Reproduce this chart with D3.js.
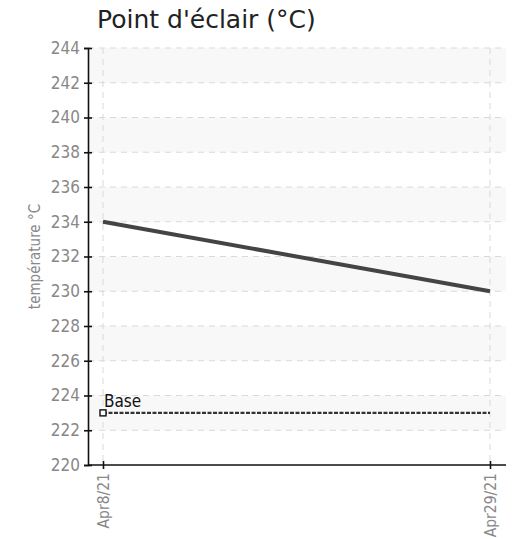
<!DOCTYPE html>
<html>
<head>
<meta charset="utf-8">
<script src="https://cdn.jsdelivr.net/npm/d3@7"></script>
<style>
body { margin: 0; background: #fff; }
</style>
</head>
<body>
<svg width="516" height="539"></svg>
<script>
var svg = d3.select("svg");

var dates = ["Apr8/21", "Apr29/21"];
var values = [234, 230];
var baseValue = 223;
var baseLabel = "Base";
var yTicks = [220, 222, 224, 226, 228, 230, 232, 234, 236, 238, 240, 242, 244];
var title = "Point d'éclair (°C)";
var yTitle = "température °C";

var plotLeft = 88, plotRight = 506, plotTop = 48, plotBottom = 465;
var condensed = "'DejaVu Sans Condensed', 'Liberation Sans Narrow', sans-serif";

var y = d3.scaleLinear().domain([220, 244]).range([plotBottom, plotTop]);
var x = d3.scalePoint().domain(dates).range([103, 490]);

// alternating bands
var bands = yTicks.slice(0, -1).filter(function(d, i) { return i % 2 == 1; });
svg.selectAll(".band").data(bands).enter().append("rect")
  .attr("x", plotLeft).attr("width", plotRight - plotLeft)
  .attr("y", function(d) { return y(d + 2); })
  .attr("height", function(d) { return y(d) - y(d + 2); })
  .attr("fill", "#f8f8f8");

// horizontal grid
svg.selectAll(".hgrid").data(yTicks.slice(1)).enter().append("line")
  .attr("x1", plotLeft).attr("x2", plotRight)
  .attr("y1", function(d) { return y(d); }).attr("y2", function(d) { return y(d); })
  .attr("stroke", "#d9d9d9").attr("stroke-dasharray", "6,5");

// vertical grid
svg.selectAll(".vgrid").data(dates).enter().append("line")
  .attr("x1", function(d) { return x(d); }).attr("x2", function(d) { return x(d); })
  .attr("y1", plotTop).attr("y2", plotBottom)
  .attr("stroke", "#d9d9d9").attr("stroke-dasharray", "6,5");

// base line
svg.append("line")
  .attr("x1", x(dates[0])).attr("x2", x(dates[1]))
  .attr("y1", y(baseValue)).attr("y2", y(baseValue))
  .attr("stroke", "#333").attr("stroke-width", 2.2).attr("stroke-dasharray", "4,1.5");
svg.append("rect")
  .attr("x", x(dates[0]) - 3).attr("y", y(baseValue) - 3)
  .attr("width", 6).attr("height", 6)
  .attr("fill", "#fff").attr("stroke", "#111").attr("stroke-width", 1.4);
svg.append("text")
  .attr("x", x(dates[0]) + 1).attr("y", y(baseValue) - 6)
  .attr("font-family", condensed).attr("font-size", 17).attr("fill", "#111")
  .text(baseLabel);

// data line
var line = d3.line().x(function(d, i) { return x(dates[i]); }).y(function(d) { return y(d); });
svg.append("path").datum(values)
  .attr("d", line).attr("fill", "none")
  .attr("stroke", "#444").attr("stroke-width", 4);

// axes
var yAxis = svg.append("g").attr("transform", "translate(" + plotLeft + ",0)")
  .call(d3.axisLeft(y).tickValues(yTicks).tickSize(4).tickPadding(4));
var xAxis = svg.append("g").attr("transform", "translate(0," + plotBottom + ")")
  .call(d3.axisBottom(x).tickSize(4).tickPadding(6));
xAxis.select(".domain").attr("d", "M" + plotLeft + ",0H" + plotRight);

[yAxis, xAxis].forEach(function(a) {
  a.select(".domain").attr("stroke", "#111").attr("stroke-width", 1.6);
  a.selectAll(".tick line").attr("stroke", "#111").attr("stroke-width", 1.6);
  a.selectAll("text").attr("font-family", condensed).attr("font-size", 17).attr("fill", "#888");
});
yAxis.selectAll(".tick line").attr("x1", 4);
xAxis.selectAll(".tick line").attr("y1", -4);
xAxis.selectAll("text")
  .attr("font-size", 15.5)
  .attr("transform", "rotate(-90)")
  .attr("text-anchor", "end")
  .attr("x", -8).attr("y", 0).attr("dy", "0.35em");

// titles
svg.append("text")
  .attr("x", 97).attr("y", 28)
  .attr("font-family", "'DejaVu Sans', sans-serif").attr("font-size", 25).attr("fill", "#222")
  .text(title);

svg.append("text")
  .attr("transform", "translate(40," + (y(232)) + ") rotate(-90)")
  .attr("text-anchor", "middle")
  .attr("font-family", condensed).attr("font-size", 15).attr("fill", "#888")
  .text(yTitle);
</script>
</body>
</html>
